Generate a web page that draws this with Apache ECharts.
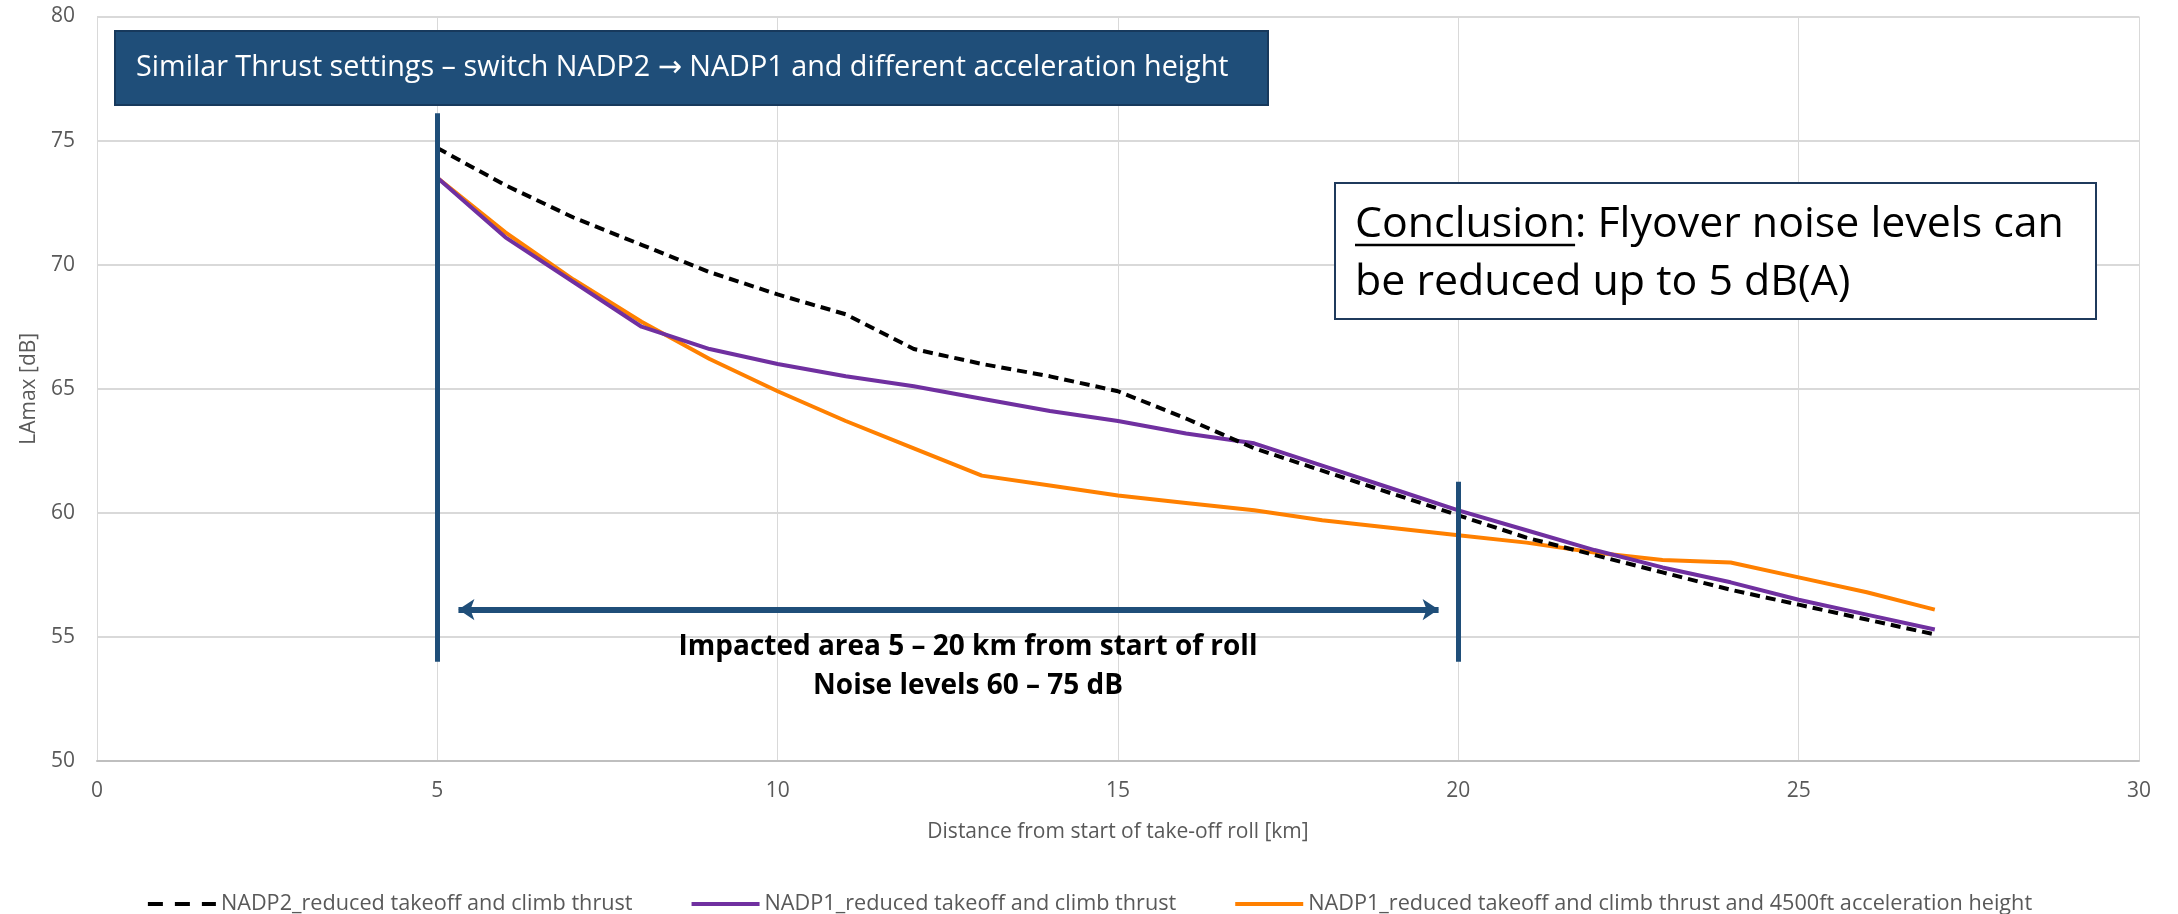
<!DOCTYPE html>
<html><head><meta charset="utf-8">
<script src="https://cdn.jsdelivr.net/npm/echarts@6/dist/echarts.min.js"></script>
<style>html,body{margin:0;padding:0;background:#fff}#c{width:2178px;height:914px}</style>
</head><body><div id="c"></div>
<script>
// ---- data ----
const distanceKm = [5,6,7,8,9,10,11,12,13,14,15,16,17,18,19,20,21,22,23,24,25,26,27];
const nadp2Reduced = [74.7,73.2,71.9,70.8,69.7,68.8,68.0,66.6,66.0,65.5,64.9,63.8,62.6,61.7,60.8,59.9,59.0,58.3,57.6,56.9,56.3,55.7,55.1];
const nadp1Reduced = [73.5,71.1,69.3,67.5,66.6,66.0,65.5,65.1,64.6,64.1,63.7,63.2,62.8,61.9,61.0,60.1,59.3,58.5,57.8,57.2,56.5,55.9,55.3];
const nadp1Accel4500 = [73.5,71.3,69.4,67.7,66.2,64.9,63.7,62.6,61.5,61.1,60.7,60.4,60.1,59.7,59.4,59.1,58.8,58.4,58.1,58.0,57.4,56.8,56.1];
const seriesNames = [
  'NADP2_reduced takeoff and climb thrust',
  'NADP1_reduced takeoff and climb thrust',
  'NADP1_reduced takeoff and climb thrust and 4500ft acceleration height'
];
const xAxisName = 'Distance from start of take-off roll [km]';
const yAxisName = 'LAmax [dB]';
const titleText = 'Similar Thrust settings \u2013 switch NADP2 \u2192 NADP1 and different acceleration height';
const conclusionWord = 'Conclusion';
const conclusionLine1Rest = ': Flyover noise levels can';
const conclusionLine2 = 'be reduced up to 5 dB(A)';
const impactLine1 = 'Impacted area 5 \u2013 20 km from start of roll';
const impactLine2 = 'Noise levels 60 \u2013 75 dB';
// annotation geometry in data units
const zoneStartKm = 5, zoneEndKm = 20;

const FONT = '"Open Sans", "Noto Sans", "DejaVu Sans", sans-serif';
const ctx = document.createElement('canvas').getContext('2d');
function textWidth(t, size, weight){ ctx.font = (weight||'normal') + ' ' + size + 'px ' + FONT; return ctx.measureText(t).width; }
function fit(t, target, weight){ return 100 * target / textWidth(t, 100, weight); }

const smallFs = Math.min(21, fit(xAxisName, 425));
const legendFs = fit(seriesNames[0], 412);
const titleFs = fit(titleText, 1093);
const conclFs = fit(conclusionWord + conclusionLine1Rest, 709);
const impactFs = fit(impactLine1, 579, 'bold');
const conclWordW = textWidth(conclusionWord, conclFs);

const zip = (xs, ys) => xs.map((x, i) => [x, ys[i]]);
const gray = '#595959';

const chart = echarts.init(document.getElementById('c'), null, {renderer: 'canvas'});
chart.setOption({
  animation: false,
  backgroundColor: '#ffffff',
  grid: {left: 97, right: 39, top: 16.5, bottom: 153, containLabel: false},
  xAxis: {
    type: 'value', min: 0, max: 30, interval: 5,
    name: xAxisName, nameLocation: 'middle', nameGap: 61,
    nameTextStyle: {color: gray, fontSize: smallFs, fontFamily: FONT},
    axisLine: {show: true, lineStyle: {color: '#bfbfbf', width: 2}},
    axisTick: {show: false},
    axisLabel: {color: gray, fontSize: smallFs, fontFamily: FONT, margin: 20},
    splitLine: {show: true, lineStyle: {color: '#d9d9d9', width: 1}}
  },
  yAxis: {
    type: 'value', min: 50, max: 80, interval: 5,
    name: yAxisName, nameLocation: 'middle', nameGap: 57, nameRotate: 90,
    nameTextStyle: {color: gray, fontSize: smallFs, fontFamily: FONT},
    axisLine: {show: false}, axisTick: {show: false},
    axisLabel: {color: gray, fontSize: smallFs, fontFamily: FONT, margin: 22},
    splitLine: {show: true, lineStyle: {color: '#d9d9d9', width: 2}}
  },
  legend: {
    data: [
      {name: seriesNames[0], lineStyle: {type: [15, 12], width: 4}},
      {name: seriesNames[1], lineStyle: {width: 4}},
      {name: seriesNames[2], lineStyle: {width: 4}}
    ],
    left: 'center', top: 888, itemWidth: 68, itemHeight: 24, itemGap: 57,
    itemStyle: {opacity: 0},
    textStyle: {color: gray, fontSize: legendFs, fontFamily: FONT}
  },
  series: [
    {
      name: seriesNames[0], type: 'line', data: zip(distanceKm, nadp2Reduced),
      symbol: 'none', lineStyle: {color: '#000000', width: 4, type: [10, 6]}, itemStyle: {color: '#000000'}, z: 4,
      markLine: {
        silent: true, symbol: 'none', animation: false,
        label: {show: false}, emphasis: {disabled: true},
        lineStyle: {color: '#1F4E79', width: 5, type: 'solid'},
        data: [
          [{coord: [zoneStartKm, 54.0]}, {coord: [zoneStartKm, 76.1]}],
          [{coord: [zoneEndKm, 54.0]}, {coord: [zoneEndKm, 61.25]}],
          [{coord: [5.31, 56.1], symbol: 'arrow', symbolSize: [16, 16], lineStyle: {width: 6, color: '#1F4E79'}},
           {coord: [19.71, 56.1], symbol: 'arrow', symbolSize: [16, 16], lineStyle: {width: 6, color: '#1F4E79'}}]
        ]
      }
    },
    {
      name: seriesNames[1], type: 'line', data: zip(distanceKm, nadp1Reduced),
      symbol: 'none', lineStyle: {color: '#7030A0', width: 4}, itemStyle: {color: '#7030A0'}, z: 3
    },
    {
      name: seriesNames[2], type: 'line', data: zip(distanceKm, nadp1Accel4500),
      symbol: 'none', lineStyle: {color: '#FF8000', width: 4}, itemStyle: {color: '#FF8000'}, z: 2
    }
  ],
  graphic: [
    {type: 'rect', shape: {x: 115, y: 31, width: 1153, height: 74}, style: {fill: '#1F4E79', stroke: '#17395C', lineWidth: 2}, z: 10},
    {type: 'text', x: 136, y: 68, style: {text: titleText, fill: '#ffffff', font: 'normal ' + titleFs + 'px ' + FONT, verticalAlign: 'middle', align: 'left'}, z: 11},
    {type: 'rect', shape: {x: 1335, y: 183, width: 761, height: 136}, style: {fill: '#ffffff', stroke: '#1F3A5C', lineWidth: 2}, z: 10},
    {type: 'text', x: 1355, y: 225, style: {text: conclusionWord + conclusionLine1Rest, fill: '#000000', font: 'normal ' + conclFs + 'px ' + FONT, verticalAlign: 'middle', align: 'left'}, z: 11},
    {type: 'line', shape: {x1: 1355, y1: 245, x2: 1355 + conclWordW, y2: 245}, style: {stroke: '#000000', lineWidth: 2.5}, z: 11},
    {type: 'text', x: 1355, y: 283, style: {text: conclusionLine2, fill: '#000000', font: 'normal ' + conclFs + 'px ' + FONT, verticalAlign: 'middle', align: 'left'}, z: 11},
    {type: 'text', x: 968, y: 647, style: {text: impactLine1, fill: '#000000', font: 'bold ' + impactFs + 'px ' + FONT, verticalAlign: 'middle', align: 'center'}, z: 11},
    {type: 'text', x: 968, y: 686, style: {text: impactLine2, fill: '#000000', font: 'bold ' + impactFs + 'px ' + FONT, verticalAlign: 'middle', align: 'center'}, z: 11}
  ]
});
</script></body></html>
